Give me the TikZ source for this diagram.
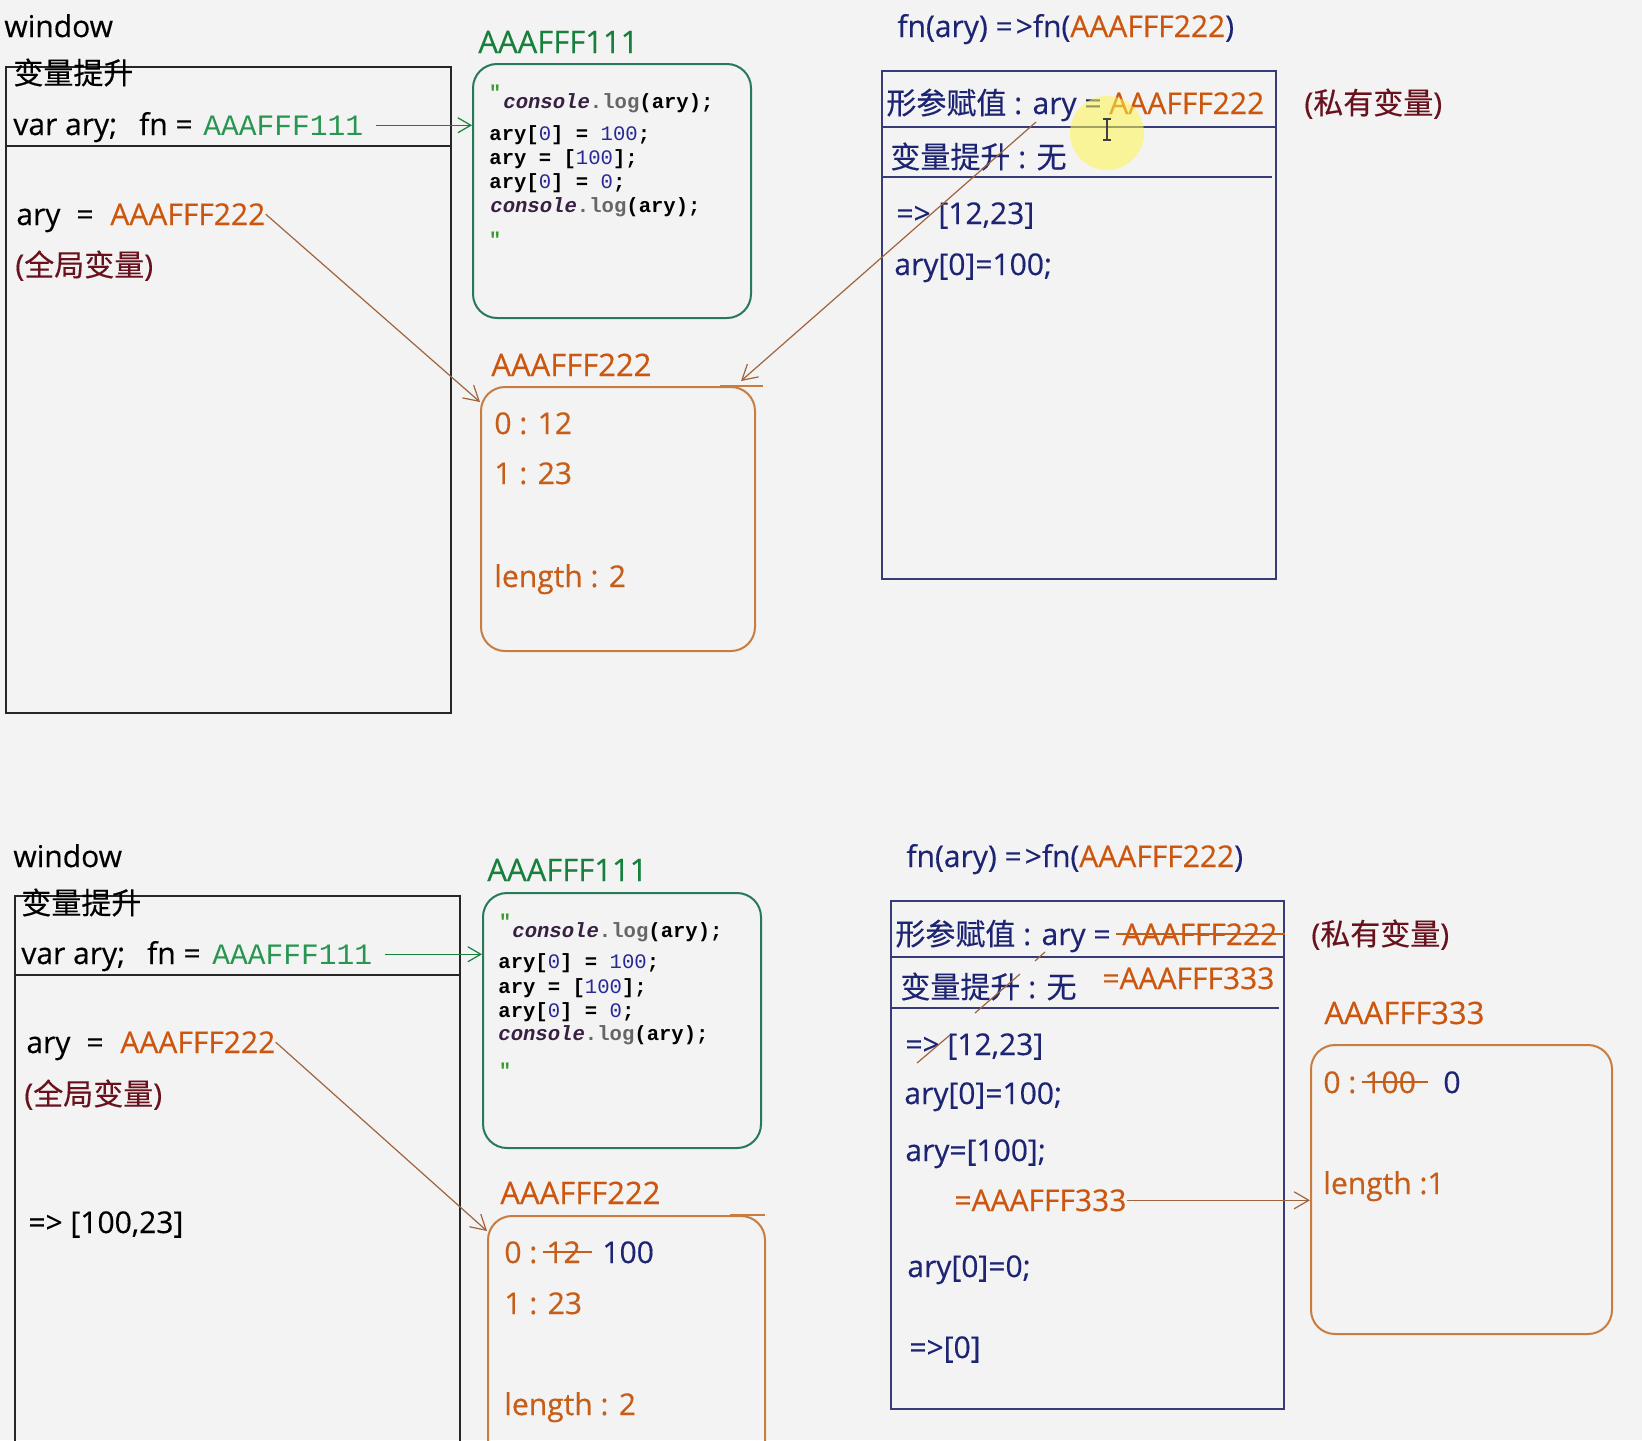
\documentclass[tikz,border=0pt]{standalone}
\usepackage{fontspec}
\usepackage{tikz}
\usetikzlibrary{arrows.meta}
\setmainfont{Open Sans}[FakeBold=0.4]
\setmonofont{Liberation Mono}
\newfontfamily\cjk{Noto Sans CJK SC}[FakeBold=0.3]

\definecolor{bgc}{RGB}{243,243,243}
\definecolor{navyc}{RGB}{28,36,115}
\definecolor{orangec}{RGB}{204,86,14}
\definecolor{valc}{RGB}{198,94,26}
\definecolor{maroonc}{RGB}{105,18,30}
\definecolor{greenc}{RGB}{22,128,60}
\definecolor{greenmono}{RGB}{40,150,80}
\definecolor{codeline}{RGB}{40,120,90}
\definecolor{memline}{RGB}{200,124,64}
\definecolor{fnline}{RGB}{55,60,120}
\definecolor{linkc}{RGB}{160,100,60}
\definecolor{codenum}{RGB}{40,40,150}
\definecolor{consolec}{RGB}{55,32,65}

\newcommand{\cons}{{\color{consolec}\bfseries\itshape console}}
\newcommand{\cnum}[1]{{\mdseries\color{codenum}#1}}
\newcommand{\logary}{{\color{black!60}.log}\textbf{(ary);}}

\begin{document}
\begin{tikzpicture}[x=0.5pt,y=0.5pt,yscale=-1,xscale=1,
  txt/.style={inner sep=0pt,anchor=base west,font=\fontsize{15}{18}\selectfont},
  title/.style={inner sep=0pt,anchor=base west,font=\fontsize{15.5}{18}\selectfont},
  code/.style={inner sep=0pt,anchor=base west,font=\ttfamily\bfseries\fontsize{10.3}{12}\selectfont},
  tick/.style={inner sep=0pt,anchor=center,text=greenc!80!lime,font=\ttfamily\bfseries\fontsize{10}{10}\selectfont},
  addr/.style={inner sep=0pt,anchor=base west,text=greenmono,font=\ttfamily\fontsize{14.8}{17}\selectfont},
  scopebox/.style={draw=black!85,line width=0.9pt,anchor=north west,inner sep=0pt},
  fnbox/.style={draw=fnline,line width=0.9pt,anchor=north west,inner sep=0pt},
  codebox/.style={draw=codeline,line width=1pt,rounded corners=12pt,anchor=north west,inner sep=0pt},
  membox/.style={draw=memline,line width=1pt,rounded corners=12pt,anchor=north west,inner sep=0pt},
  link/.style={draw=linkc,line width=0.6pt,-{Straight Barb[angle=60:8.5pt]}},
  glink/.style={draw=greenc,line width=0.6pt,-{Straight Barb[angle=60:7.5pt]}},
  strike/.style={draw=valc,line width=0.9pt}
]
\useasboundingbox (0,0) rectangle (1642,1440);
\fill[bgc] (0,0) rectangle (1642,1440);
\clip (0,0) rectangle (1642,1440);

%%%%%%%%%%%%%%%%%%%% top: before the call
%Shape: Rectangle
\node[scopebox,minimum width=222.5pt,minimum height=323pt] (scopeA) at (5,66) {};
\draw[black!85,line width=0.9pt] (5,146) -- (450,146);
%Shape: Rounded Rect
\node[codebox,minimum width=139pt,minimum height=127pt] (codeA) at (472,63) {};
\node[membox,minimum width=137pt,minimum height=132pt] (memA) at (480,386) {};
\draw[memline,line width=1pt] (720,386) -- (763,386);
%Shape: Rectangle
\node[fnbox,minimum width=197pt,minimum height=254pt] (fnboxA) at (881,70) {};
\draw[fnline,line width=0.9pt] (881,127) -- (1275,127);
\draw[fnline,line width=0.9pt] (881,177) -- (1272,177);

% Text Node
\node[txt] (winA) at (4,37) {window};
\node[txt] (hoistA) at (13,84) {\cjk 变量提升};
\node[txt] (varA) at (13,135) {var ary;\hspace{11pt}fn =};
\node[addr] (fnA) at (203,135) {AAAFFF111};
\node[txt] (aryA) at (16,225) {ary\hspace{8pt}=};
\node[txt,text=orangec] (v222A) at (110,225) {AAAFFF222};
\node[txt,text=maroonc] (globA) at (15,276) {({\cjk 全局变量})};
% Text Node
\node[title,text=greenc] (t111A) at (478,53) {AAAFFF111};
\node[tick] (q1A) at (495,92) {"};
\node[code] (c1A) at (503,108) {\cons\logary};
\node[code] (c2A) at (489,140) {ary[\cnum{0}] = \cnum{100};};
\node[code] (c3A) at (489,164) {ary = [\cnum{100}];};
\node[code] (c4A) at (489,188) {ary[\cnum{0}] = \cnum{0};};
\node[code] (c5A) at (490,212) {\cons\logary};
\node[tick] (q2A) at (495,239) {"};
% Text Node
\node[title,text=orangec] (t222A) at (491,376) {AAAFFF222};
\node[txt,text=valc] (k0A) at (494,434) {0 : 12};
\node[txt,text=valc] (k1A) at (494,484) {1 : 23};
\node[txt,text=valc] (lenA) at (494,587) {length : 2};
% Text Node
\node[txt,text=navyc] (callA) at (897,37) {fn(ary) =\kern1.5pt>fn(\textcolor{orangec}{AAAFFF222})};
\node[txt,text=navyc] (argA) at (886,114) {{\cjk 形参赋值} : ary = \textcolor{orangec}{AAAFFF222}};
\node[txt,text=maroonc] (privA) at (1304,114) {({\cjk 私有变量})};
\node[txt,text=navyc] (noneA) at (890,168) {{\cjk 变量提升} : {\cjk 无}};
\node[txt,text=navyc] (outA) at (896,224) {=> [12,23]};
\node[txt,text=navyc] (setA) at (894,275) {ary[0]=100;};

%Straight Lines
\coordinate (parA) at (1036,122);
\draw[glink] ([xshift=6pt]fnA.east) -- (fnA.east -| codeA.west);
\draw[link] (v222A.east) -- ([yshift=8pt]memA.north west);
\draw[link] (parA) -- ([xshift=-7.5pt,yshift=-2.5pt]memA.north east);

% cursor
\fill[yellow!70!white,opacity=0.55] (1107,133) circle[radius=18.5pt];
\draw[black!75,line width=0.6pt] (1107,119) -- (1107,140) (1103,119) -- (1111,119) (1103,140) -- (1111,140);

%%%%%%%%%%%%%%%%%%%% bottom: after the call
%Shape: Rectangle
\node[scopebox,minimum width=222.5pt,minimum height=290pt] (scopeB) at (14,895) {};
\draw[black!85,line width=0.9pt] (14,975) -- (459,975);
%Shape: Rounded Rect
\node[codebox,minimum width=139pt,minimum height=127.5pt] (codeB) at (482,892) {};
\node[membox,minimum width=138.5pt,minimum height=135pt] (memB) at (487,1215) {};
\draw[memline,line width=1pt] (730,1215) -- (765,1215);
\node[membox,minimum width=150.5pt,minimum height=144.5pt] (memC) at (1310,1044) {};
%Shape: Rectangle
\node[fnbox,minimum width=196.5pt,minimum height=254pt] (fnboxB) at (890,900) {};
\draw[fnline,line width=0.9pt] (890,957) -- (1283,957);
\draw[fnline,line width=0.9pt] (890,1008) -- (1279,1008);

% Text Node
\node[txt] (winB) at (13,867) {window};
\node[txt] (hoistB) at (21,914) {\cjk 变量提升};
\node[txt] (varB) at (21,964) {var ary;\hspace{11pt}fn =};
\node[addr] (fnB) at (212,964) {AAAFFF111};
\node[txt] (aryB) at (26,1053) {ary\hspace{8pt}=};
\node[txt,text=orangec] (v222B) at (120,1053) {AAAFFF222};
\node[txt,text=maroonc] (globB) at (24,1105) {({\cjk 全局变量})};
\node[txt] (resB) at (28,1233) {=> [100,23]};
% Text Node
\node[title,text=greenc] (t111B) at (487,881) {AAAFFF111};
\node[tick] (q1B) at (505,921) {"};
\node[code] (c1B) at (512,937) {\cons\logary};
\node[code] (c2B) at (498,968) {ary[\cnum{0}] = \cnum{100};};
\node[code] (c3B) at (498,993) {ary = [\cnum{100}];};
\node[code] (c4B) at (498,1017) {ary[\cnum{0}] = \cnum{0};};
\node[code] (c5B) at (498,1040) {\cons\logary};
\node[tick] (q2B) at (505,1070) {"};
% Text Node
\node[title,text=orangec] (t222B) at (500,1204) {AAAFFF222};
\node[txt,text=valc] (k0B) at (504,1263) {0 :};
\node[txt,text=valc] (old12) at (546,1263) {12};
\node[txt,text=navyc] (new100) at (602,1263) {100};
\node[txt,text=valc] (k1B) at (504,1314) {1 : 23};
\node[txt,text=valc] (lenB) at (504,1415) {length : 2};
% Text Node
\node[txt,text=navyc] (callB) at (906,867) {fn(ary) =\kern1.5pt>fn(\textcolor{orangec}{AAAFFF222})};
\node[txt,text=navyc] (argB) at (895,945) {{\cjk 形参赋值} : ary =};
\node[txt,text=orangec] (old222) at (1122,945) {AAAFFF222};
\node[txt,text=maroonc] (privB) at (1311,945) {({\cjk 私有变量})};
\node[txt,text=navyc] (noneB) at (900,998) {{\cjk 变量提升} : {\cjk 无}};
\node[txt,text=orangec] (new333) at (1102,989) {=AAAFFF333};
\node[txt,text=navyc] (outB) at (905,1055) {=> [12,23]};
\node[txt,text=navyc] (set1B) at (904,1104) {ary[0]=100;};
\node[txt,text=navyc] (set2B) at (905,1161) {ary=[100];};
\node[txt,text=orangec] (a333B) at (954,1211) {=AAAFFF333};
\node[txt,text=navyc] (set3B) at (907,1277) {ary[0]=0;};
\node[txt,text=navyc] (outC) at (909,1358) {=>[0]};
% Text Node
\node[title,text=orangec] (t333) at (1324,1024) {AAAFFF333};
\node[txt,text=valc] (k0C) at (1323,1093) {0 :};
\node[txt,text=valc] (old100) at (1364,1093) {100};
\node[txt,text=navyc] (new0) at (1443,1093) {0};
\node[txt,text=valc] (lenC) at (1323,1194) {length :1};

%Straight Lines
\draw[glink] ([xshift=6pt]fnB.east) -- (fnB.east -| codeB.west);
\draw[link] (v222B.east) -- ([yshift=8pt]memB.north west);
\draw[link] (a333B.east) -- (a333B.east -| memC.west);
\draw[strike] ([xshift=-3pt]old222.west) -- ([xshift=3.5pt]old222.east);
\draw[strike] ([xshift=-1.5pt]old12.west) -- ([xshift=5.5pt]old12.east);
\draw[strike] ([xshift=-1pt]old100.west) -- ([xshift=6pt]old100.east);
% what is left of the old link
\draw[linkc,line width=0.6pt] (1045,952) -- (1035,961) (1020,974) -- (975,1013) (950,1035) -- (917,1063);
\end{tikzpicture}
\end{document}
